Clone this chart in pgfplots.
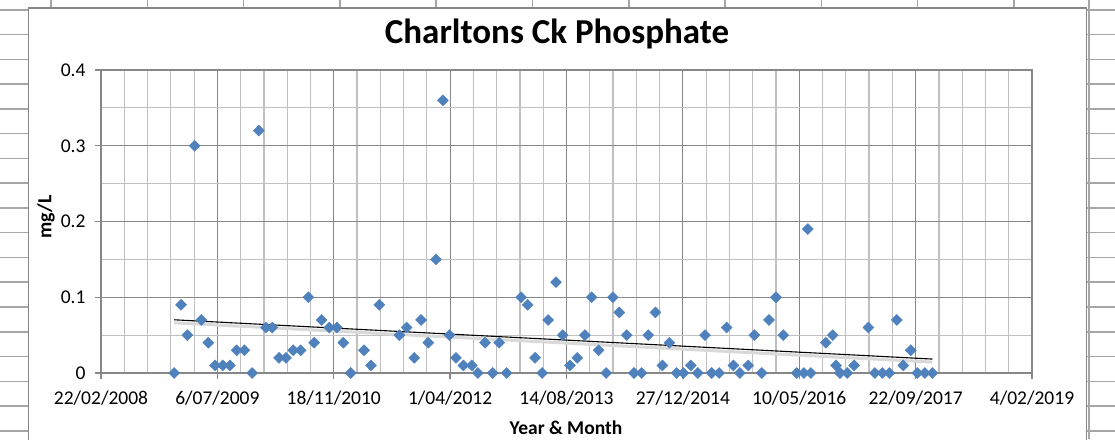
\documentclass[border=0pt]{standalone}
\usepackage{pgfplots}
\pgfplotsset{compat=1.18}
\usepackage{pgfplotstable}
\usepackage{fontspec}
\setmainfont{Carlito}
\definecolor{xlblue}{HTML}{4F81BD}
\definecolor{majgrid}{HTML}{878787}
\definecolor{mingrid}{HTML}{C0C0C0}
\definecolor{sheet}{HTML}{A6A6A6}

% x = days since 22/02/2008, y = mg/L
\pgfplotstableread{
x y
314 0
344 0.09
371 0.05
402 0.30
431 0.07
461 0.04
490 0.01
523 0.01
554 0.01
583 0.03
616 0.03
649 0
678 0.32
709 0.06
736 0.06
765 0.02
795 0.02
826 0.03
858 0.03
891 0.10
916 0.04
948 0.07
981 0.06
1013 0.06
1041 0.04
1073 0
1130 0.03
1160 0.01
1196 0.09
1282 0.05
1313 0.06
1346 0.02
1375 0.07
1406 0.04
1439 0.15
1469 0.36
1497 0.05
1525 0.02
1557 0.01
1593 0.01
1619 0
1650 0.04
1683 0
1711 0.04
1743 0
1805 0.10
1833 0.09
1865 0.02
1895 0
1921 0.07
1955 0.12
1984 0.05
2015 0.01
2046 0.02
2079 0.05
2108 0.10
2138 0.03
2170 0
2199 0.10
2227 0.08
2259 0.05
2290 0
2323 0
2351 0.05
2382 0.08
2412 0.01
2442 0.04
2473 0
2502 0
2534 0.01
2564 0
2595 0.05
2624 0
2656 0
2688 0.06
2717 0.01
2745 0
2781 0.01
2807 0.05
2839 0
2870 0.07
2900 0.10
2931 0.05
2989 0
3020 0
3037 0.19
3050 0
3114 0.04
3144 0.05
3158 0.01
3175 0
3206 0
3236 0.01
3297 0.06
3325 0
3357 0
3387 0
3419 0.07
3447 0.01
3479 0.03
3507 0
3540 0
3572 0
}\phos

\begin{document}
\begin{tikzpicture}
\useasboundingbox (0pt,0pt) rectangle (1115pt,439pt);
\begin{scope}[x=1pt,y=1pt]
\fill[white] (0,0) rectangle (1115,439);
% spreadsheet cells around the chart
\foreach \yy in {10,34.75,...,432} {
  \draw[sheet, line width=1.5pt] (0,{439-\yy}) -- (29,{439-\yy});
  \draw[sheet, line width=1.5pt] (1087,{439-\yy}) -- (1115,{439-\yy});
}
\foreach \xx in {51,147.3,...,1020} {
  \draw[sheet, line width=1.5pt] (\xx,439) -- (\xx,430);
}
\draw[sheet, line width=1.5pt] (31,0) -- (31,431);
\draw[sheet, line width=1.5pt] (1089,0) -- (1089,439);
% chart area
\filldraw[fill=white, draw=majgrid, line width=1.5pt] (28.5,-5) rectangle (1086.5,431);

\node[font=\fontsize{35}{40}\selectfont\bfseries] at (557,405) {Charltons Ck Phosphate};
\node[font=\fontsize{19.5}{22}\selectfont\bfseries] at (566,11) {Year \& Month};
\node[font=\fontsize{20}{22}\selectfont\bfseries, rotate=90] at (46,222) {mg/L};
\end{scope}

\begin{axis}[
  at={(101pt,66pt)}, anchor=south west,
  width=931pt, height=303pt, scale only axis,
  xmin=0, xmax=4000, ymin=0, ymax=0.4,
  xtick={0,500,...,4000},
  xticklabels={22/02/2008,6/07/2009,18/11/2010,1/04/2012,14/08/2013,27/12/2014,10/05/2016,22/09/2017,4/02/2019},
  minor x tick num=4,
  ytick={0,0.1,0.2,0.3,0.4},
  yticklabels={0,0.1,0.2,0.3,0.4},
  minor y tick num=1,
  grid=both,
  major grid style={draw=majgrid, line width=1.2pt},
  minor grid style={draw=mingrid, line width=1.2pt},
  axis line style={draw=majgrid, line width=1.4pt},
  tick style={draw=majgrid, line width=1.4pt},
  major tick length=6pt, minor tick length=0pt,
  tick align=outside, tick pos=left,
  /pgf/number format/assume math mode=true,
  ticklabel style={font=\fontsize{19.5}{22}\selectfont, text=black},
  xticklabel style={yshift=-8pt},
  yticklabel style={xshift=-6pt},
]
\addplot[only marks, mark=square*, mark size=3.9pt,
  mark options={rotate=45, fill=xlblue, draw=xlblue}]
  table[x=x, y=y] {\phos};
\addplot[draw=gray!30, line width=3pt, yshift=-3pt, forget plot]
  table[x=x, y={create col/linear regression={y=y}}] {\phos};
\addplot[black, line width=1.1pt]
  table[x=x, y={create col/linear regression={y=y}}] {\phos};
\end{axis}
\end{tikzpicture}
\end{document}
